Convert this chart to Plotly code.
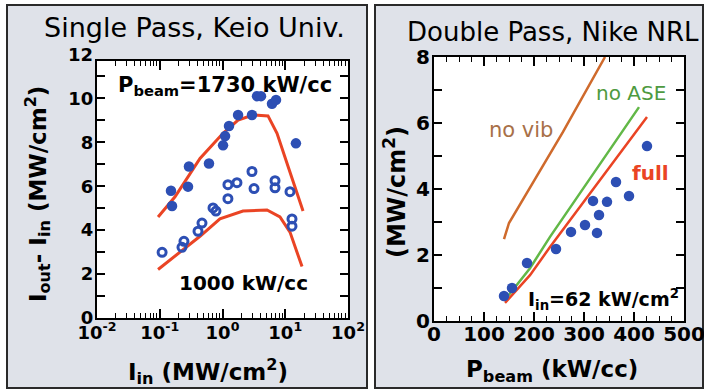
import plotly.graph_objects as go

W, H = 704, 390

# ---------------- data: left panel (Single Pass, Keio Univ.) ----------------
keio_1730_x = [0.151, 0.157, 0.282, 0.292, 0.609, 1.02, 1.10, 1.27, 1.77, 2.95, 3.55, 4.11, 6.15, 7.13, 14.8]
keio_1730_y = [5.79, 5.10, 5.98, 6.90, 7.03, 7.86, 8.28, 8.74, 9.24, 9.24, 10.1, 10.1, 9.75, 9.93, 7.95]
keio_1000_x = [0.109, 0.226, 0.243, 0.407, 0.471, 0.706, 0.787, 1.22, 1.22, 1.70, 2.95, 3.18, 6.87, 6.87, 11.9, 12.8, 12.8]
keio_1000_y = [2.99, 3.22, 3.49, 3.95, 4.32, 5.01, 4.87, 5.43, 6.07, 6.16, 6.67, 5.89, 6.25, 5.93, 5.75, 4.51, 4.18]
model_1730_x = [0.094, 0.175, 0.438, 1.02, 1.77, 3.06, 5.31, 7.39, 11.1, 17.2, 19.2]
model_1730_y = [4.60, 5.52, 7.26, 8.41, 9.01, 9.24, 9.20, 8.41, 6.90, 5.33, 4.87]
model_1000_x = [0.094, 0.438, 0.91, 2.12, 5.12, 8.24, 11.9, 17.2, 18.5]
model_1000_y = [2.21, 3.72, 4.51, 4.87, 4.92, 4.60, 3.91, 2.53, 2.34]

left_xtick_vals = [0.01, 0.1, 1, 10, 100]
left_xtick_text = ["10<sup>-2</sup>", "10<sup>-1</sup>", "10<sup>0</sup>", "10<sup>1</sup>", "10<sup>2</sup>"]
left_ytick_vals = [0, 2, 4, 6, 8, 10]

# ---------------- data: right panel (Double Pass, Nike NRL) ----------------
nike_x = [140, 156, 186, 244, 274, 302, 326, 330, 318, 346, 364, 390, 426]
nike_y = [0.76, 1.00, 1.76, 2.18, 2.70, 2.91, 2.67, 3.21, 3.64, 3.61, 4.21, 3.79, 5.30]
full_x = [142, 192, 232, 426]
full_y = [0.55, 1.39, 2.24, 6.18]
noase_x = [142, 192, 232, 410]
noase_y = [0.64, 1.60, 2.55, 6.48]
novib_x = [140, 150, 258, 342]
novib_y = [2.48, 2.97, 5.73, 8.0]

# ---------------- styling ----------------
FONT = "DejaVu Sans"
BLUE = "#2d4fb4"
RED = "#ea4424"
ORANGE = "#cf6a2c"
GREEN = "#62b847"
PANEL = "#dfe2e9"
EDGE = "#2a2a2a"


def pxx(x):
    return x / W


def pxy(y):
    return 1 - y / H


fig = go.Figure()

# left panel traces
fig.add_trace(go.Scatter(x=model_1730_x, y=model_1730_y, mode="lines",
                         line=dict(color=RED, width=3), xaxis="x", yaxis="y", showlegend=False))
fig.add_trace(go.Scatter(x=model_1000_x, y=model_1000_y, mode="lines",
                         line=dict(color=RED, width=3), xaxis="x", yaxis="y", showlegend=False))
fig.add_trace(go.Scatter(x=keio_1730_x, y=keio_1730_y, mode="markers",
                         marker=dict(color=BLUE, size=10.5, symbol="circle"),
                         xaxis="x", yaxis="y", showlegend=False))
fig.add_trace(go.Scatter(x=keio_1000_x, y=keio_1000_y, mode="markers",
                         marker=dict(color=BLUE, size=8, symbol="circle-open", line=dict(width=3, color=BLUE)),
                         xaxis="x", yaxis="y", showlegend=False))

# right panel traces
fig.add_trace(go.Scatter(x=novib_x, y=novib_y, mode="lines",
                         line=dict(color=ORANGE, width=2.5), xaxis="x2", yaxis="y2", showlegend=False))
fig.add_trace(go.Scatter(x=noase_x, y=noase_y, mode="lines",
                         line=dict(color=GREEN, width=2.5), xaxis="x2", yaxis="y2", showlegend=False))
fig.add_trace(go.Scatter(x=full_x, y=full_y, mode="lines",
                         line=dict(color=RED, width=2.5), xaxis="x2", yaxis="y2", showlegend=False))
fig.add_trace(go.Scatter(x=nike_x, y=nike_y, mode="markers",
                         marker=dict(color=BLUE, size=10.5, symbol="circle"),
                         xaxis="x2", yaxis="y2", showlegend=False))

axis_common = dict(showline=True, linecolor="black", linewidth=2, mirror="ticks",
                   ticks="inside", tickcolor="black", tickwidth=1.5, showgrid=False,
                   zeroline=False, automargin=False, ticklabeloverflow="allow")

minor_log = [m * 10.0 ** k for k in range(-2, 2) for m in range(2, 10)]

fig.update_layout(
    width=W, height=H,
    margin=dict(l=0, r=0, t=0, b=0, pad=0, autoexpand=False),
    paper_bgcolor="white", plot_bgcolor="white",
    font=dict(family=FONT, color="black"),
    xaxis=dict(axis_common, type="log", range=[-2, 2], domain=[pxx(97), pxx(348)],
               tickmode="array", tickvals=left_xtick_vals, ticktext=left_xtick_text, ticklen=9,
               tickfont=dict(family=FONT, size=18, weight="bold"), ticklabelstandoff=-3,
               minor=dict(tickmode="array", tickvals=minor_log, ticks="inside", ticklen=5,
                          tickcolor="black", tickwidth=1.2, showgrid=False),
               anchor="y"),
    yaxis=dict(axis_common, range=[0, 11.7], domain=[pxy(318), pxy(61)],
               tickmode="array", tickvals=left_ytick_vals, ticklen=8,
               tickfont=dict(family=FONT, size=18, weight="bold"), ticklabelstandoff=-2,
               minor=dict(dtick=1, ticks="inside", ticklen=8, tickcolor="black", tickwidth=1.5, showgrid=False),
               anchor="x"),
    xaxis2=dict(axis_common, range=[0, 500], domain=[pxx(434), pxx(684)], dtick=100, ticklen=9,
                tickfont=dict(family=FONT, size=20, weight="bold"), ticklabelstandoff=-6,
                minor=dict(dtick=25, ticks="inside", ticklen=5, tickcolor="black", tickwidth=1.2, showgrid=False),
                anchor="y2"),
    yaxis2=dict(axis_common, range=[0, 8], domain=[pxy(321), pxy(57)], dtick=2, ticklen=8,
                tickfont=dict(family=FONT, size=20, weight="bold"), ticklabelstandoff=-2,
                minor=dict(dtick=1, ticks="inside", ticklen=8, tickcolor="black", tickwidth=1.5, showgrid=False),
                anchor="x2"),
)

shapes = [
    dict(type="rect", xref="paper", yref="paper", x0=pxx(7), x1=pxx(367), y0=pxy(388), y1=pxy(5),
         fillcolor=PANEL, line=dict(color=EDGE, width=2), layer="below"),
    dict(type="rect", xref="paper", yref="paper", x0=pxx(375), x1=pxx(703), y0=pxy(388), y1=pxy(5),
         fillcolor=PANEL, line=dict(color=EDGE, width=2), layer="below"),
    dict(type="rect", xref="x domain", yref="y domain", x0=0, x1=1, y0=0, y1=1,
         fillcolor="white", line=dict(width=0), layer="below"),
    dict(type="rect", xref="x2 domain", yref="y2 domain", x0=0, x1=1, y0=0, y1=1,
         fillcolor="white", line=dict(width=0), layer="below"),
]
fig.update_layout(shapes=shapes)


def ann(text, x, y, size, color="black", bold=False, angle=0, xanchor="center"):
    return dict(text=text, x=pxx(x), y=pxy(y), xref="paper", yref="paper", showarrow=False,
                xanchor=xanchor, yanchor="middle", textangle=angle,
                font=dict(family=FONT, size=size, color=color, weight="bold" if bold else "normal"))


annotations = [
    ann("Single Pass, Keio Univ.", 194, 28, 27),
    ann("Double Pass, Nike NRL", 553, 32, 26),
    ann("12", 95, 55, 18, bold=True, xanchor="right"),
    ann("P<sub>beam</sub>=1730 kW/cc", 225, 86, 21, bold=True),
    ann("1000 kW/cc", 243, 283, 20, bold=True),
    ann("I<sub>out</sub>- I<sub>in</sub> (MW/cm<sup>2</sup>)", 37, 194, 23, bold=True, angle=-90),
    ann("I<sub>in</sub> (MW/cm<sup>2</sup>)", 208, 371, 23, bold=True),
    ann("no vib", 521, 130, 21, color="#a87048"),
    ann("no ASE", 631, 93, 20, color="#4e9a40"),
    ann("full", 650, 173, 20, color=RED, bold=True),
    ann("I<sub>in</sub>=62 kW/cm<sup>2</sup>", 603, 299, 19, bold=True),
    ann("(MW/cm<sup>2</sup>)", 395, 192, 24, bold=True, angle=-90),
    ann("P<sub>beam</sub> (kW/cc)", 552, 371, 23, bold=True),
]
fig.update_layout(annotations=annotations)

fig.write_html("out.html", config={"displayModeBar": False},
               post_script="document.body.style.margin='0';document.body.style.overflow='hidden';")
